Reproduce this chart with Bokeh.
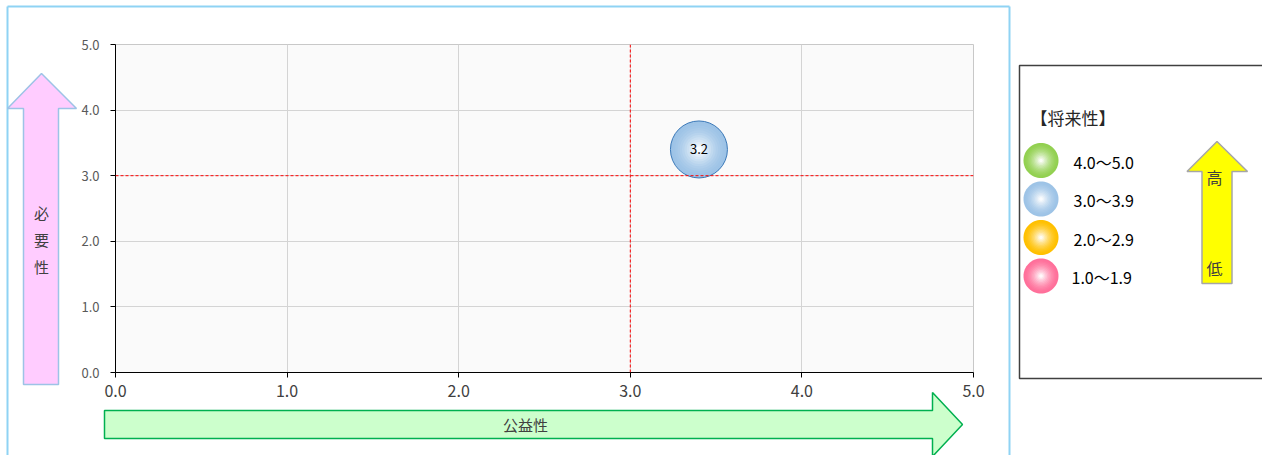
import math
from bokeh.plotting import figure
from bokeh.models import Range1d, FixedTicker, Span
from bokeh.embed import file_html
from bokeh.resources import INLINE
from bokeh.core.properties import value

# ---------------- data ----------------
x_public = [3.4]          # 公益性
y_need = [3.4]            # 必要性
future = [3.2]            # 将来性 (bubble label / colour class)
threshold_x = [3.0]
threshold_y = [3.0]
ticks = [0, 1, 2, 3, 4, 5]
tick_labels = ["0.0", "1.0", "2.0", "3.0", "4.0", "5.0"]
x_title = "公益性"
y_title = ["必", "要", "性"]
legend_title = "【将来性】"
legend_labels = ["4.0～5.0", "3.0～3.9", "2.0～2.9", "1.0～1.9"]
legend_lows = [4.0, 3.0, 2.0, 1.0]
legend_colors = ["#92d050", "#9dc3e6", "#ffc000", "#ff6f9a"]
high_low = ["高", "低"]

FONT = "Noto Sans CJK JP"

# ---------------- helpers ----------------
def hex_to_rgb(h):
    h = h.lstrip("#")
    return tuple(int(h[i:i + 2], 16) for i in (0, 2, 4))

def mix_white(h, t):
    r, g, b = hex_to_rgb(h)
    return "#%02x%02x%02x" % (round(r + (255 - r) * t), round(g + (255 - g) * t), round(b + (255 - b) * t))

def gradient_layers(base, diameter, n=12):
    out = []
    for k in range(n):
        f = k / (n - 1)
        size = diameter * (1 - 0.9 * f)
        t = f ** 1.6 * 0.95
        out.append((size, mix_white(base, t)))
    return out

def colour_for(v):
    for low, c in zip(legend_lows, legend_colors):
        if v >= low:
            return c
    return legend_colors[-1]

# ---------------- figure ----------------
W, H = 1262, 455
FL, FR, FT, FB = 115, 289, 44, 83
FW, FH = W - FL - FR, H - FT - FB

p = figure(width=W, height=H, output_backend="svg", toolbar_location=None,
           x_range=Range1d(0, 5), y_range=Range1d(0, 5),
           min_border_left=FL, min_border_right=FR, min_border_top=FT, min_border_bottom=FB)
p.background_fill_color = "#fafafa"
p.border_fill_color = "white"
p.outline_line_color = "#c8c8c8"

for ax in (p.xaxis[0], p.yaxis[0]):
    ax.ticker = FixedTicker(ticks=ticks)
    ax.major_label_overrides = {t: l for t, l in zip(ticks, tick_labels)}
    ax.axis_line_color = "black"
    ax.axis_line_width = 1
    ax.major_tick_line_color = "black"
    ax.major_tick_in = 0
    ax.major_tick_out = 5
    ax.minor_tick_line_color = None
    ax.major_label_text_font = FONT
p.xaxis.major_label_text_font_size = "16px"
p.xaxis.major_label_text_color = "#404040"
p.xaxis.major_label_standoff = 7
p.yaxis.major_label_text_font_size = "13px"
p.yaxis.major_label_text_color = "#595959"
p.yaxis.major_label_standoff = 11
p.xgrid.ticker = FixedTicker(ticks=ticks)
p.ygrid.ticker = FixedTicker(ticks=ticks)
p.grid.grid_line_color = "#d4d4d4"

for v in threshold_x:
    p.add_layout(Span(location=v, dimension="height", line_color="#ff0000", line_dash="3 2", line_width=1))
for v in threshold_y:
    p.add_layout(Span(location=v, dimension="width", line_color="#ff0000", line_dash="3 2", line_width=1))

# bubble
base = colour_for(future[0])
for size, col in gradient_layers(base, 57):
    p.scatter(x_public, y_need, size=size, fill_color=col, line_color=None)
p.scatter(x_public, y_need, size=57, fill_color=None, line_color="#3a78b8", line_width=1)
p.text(x_public, y_need, text=["%.1f" % f for f in future], text_align="center", text_baseline="middle",
       text_font=value(FONT), text_font_size="13px", text_color="black")

# pixel -> data helpers (decorations outside the plot frame)
def dx(px):
    return (px - FL) / FW * 5

def dy(py):
    return (FT + FH - py) / FH * 5

OV = dict(level="overlay")

def deco_text(px, py, txt, size, color="#404040", align="center"):
    p.text([dx(px)], [dy(py)], text=[txt], text_align=align, text_baseline="middle",
           text_font=value(FONT), text_font_size=size, text_color=color, **OV)

# outer light-blue chart border
p.multi_line([[dx(7), dx(7)], [dx(7), dx(1009)], [dx(1009), dx(1009)]],
             [[dy(470), dy(6)], [dy(6), dy(6)], [dy(6), dy(470)]],
             line_color="#8fd3f4", line_width=2, **OV)

# pink up arrow (必要性)
pxs = [41, 76, 58, 58, 23, 23, 7]
pys = [73, 108, 108, 384, 384, 108, 108]
p.patch([dx(v) for v in pxs], [dy(v) for v in pys],
        fill_color="#ffccff", line_color="#9dc3e6", line_width=1.5, **OV)
for ch, yy in zip(y_title, [212, 239, 266]):
    deco_text(41, yy, ch, "15px")

# green right arrow (公益性)
gxs = [104, 932, 932, 962, 932, 932, 104]
gys = [410, 410, 392, 424, 456, 438, 438]
p.patch([dx(v) for v in gxs], [dy(v) for v in gys],
        fill_color="#ccffcc", line_color="#00b050", line_width=1.5, **OV)
deco_text(525, 424, x_title, "15px")

# ---------------- legend panel ----------------
p.quad(left=[dx(1019)], right=[dx(1290)], top=[dy(65)], bottom=[dy(378)], fill_color="white",
       line_color="#404040", line_width=1.5, **OV)
deco_text(1030, 117, legend_title, "17px", color="#262626", align="left")

def circle_poly(cx, cy, r, n=64):
    xs = [dx(cx + r * math.cos(2 * math.pi * k / n)) for k in range(n)]
    ys = [dy(cy + r * math.sin(2 * math.pi * k / n)) for k in range(n)]
    return xs, ys

ys_leg = [160 + 38.5 * i for i in range(len(legend_labels))]
for i, (lab, col) in enumerate(zip(legend_labels, legend_colors)):
    for size, c in gradient_layers(col, 35):
        xs, ys = circle_poly(1040.5, ys_leg[i], size / 2)
        p.patch(xs, ys, fill_color=c, line_color=None, **OV)
    deco_text(1073 if i < 3 else 1071, ys_leg[i] + 1, lab, "16px", color="black", align="left")

axs = [1216.5, 1247, 1231.5, 1231.5, 1201.5, 1201.5, 1186.5]
ays = [141, 171, 171, 283, 283, 171, 171]
p.patch([dx(v) for v in axs], [dy(v) for v in ays],
        fill_color="#ffff00", line_color="#a6a6a6", line_width=1.5, **OV)
for txt, yy in zip(high_low, [176, 267]):
    deco_text(1214, yy, txt, "16px")

open("out.html", "w").write(file_html(p, INLINE))
